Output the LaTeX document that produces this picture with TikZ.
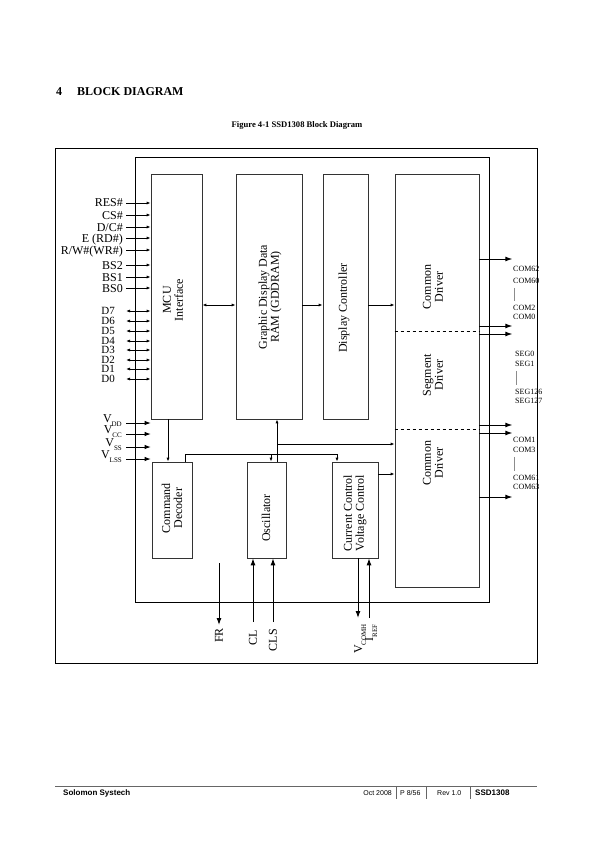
\documentclass[tikz,border=0pt]{standalone}
\usepackage{fontspec}
\setmainfont{Liberation Serif}
\newfontfamily\footfont{Liberation Sans}
\usetikzlibrary{arrows.meta,positioning,calc}

\begin{document}
\begin{tikzpicture}[
  x=1pt, y=-1pt,
  >={Latex[length=4pt,width=3pt]},
  every node/.style={font=\fontsize{12}{12}\selectfont, inner sep=0pt},
  blk/.style={draw=black!80, line width=0.7pt},
  lbl/.style={rotate=90, align=center},
  pin/.style={anchor=east, text height=8pt, text depth=0pt},
  wire/.style={line width=0.8pt},
  big/.style={-{Latex[length=7pt,width=5pt]}, line width=1pt},
  outname/.style={font=\fontsize{8}{8}\selectfont, anchor=west},
  tick/.style={draw=black!45, line width=0.4pt, shorten <=4pt, shorten >=4pt},
  foot/.style={font=\footfont\fontsize{7}{7}\selectfont}
]
\useasboundingbox (0,0) rectangle (595,842);

% heading
\node[anchor=base west, font=\bfseries\fontsize{12}{12}\selectfont] (secnum) at (56,96) {4};
\node[anchor=base west, font=\bfseries\fontsize{12}{12}\selectfont] (sectitle) at (77,96) {BLOCK DIAGRAM};
\node[font=\bfseries\fontsize{8.6}{8.6}\selectfont] (caption) at (297,125) {Figure 4-1 SSD1308 Block Diagram};

% frame and chip outline
\draw[line width=0.9pt] (55,148) rectangle (537,663);
\draw[line width=0.9pt] (135,157) rectangle (489,602);

% blocks
\node[blk, minimum width=51pt, minimum height=245pt] (mcu) at (176.5,296.5) {};
\node[blk, minimum width=66pt, minimum height=245pt] (ram) at (269,296.5) {};
\node[blk, minimum width=45pt, minimum height=245pt] (dc) at (345.5,296.5) {};
\node[blk, minimum width=84pt, minimum height=413pt] (drv) at (437,380.5) {};
\node[blk, minimum width=40pt, minimum height=96pt] (cmd) at (172,510) {};
\node[blk, minimum width=39pt, minimum height=96pt] (osc) at (266.5,510) {};
\node[blk, minimum width=46pt, minimum height=96pt] (cc) at (355,510) {};
\draw[dashed, line width=0.6pt] (drv.west |- 0,331) -- (drv.east |- 0,331);
\draw[dashed, line width=0.6pt] (drv.west |- 0,429) -- (drv.east |- 0,429);

\node[lbl] at (173,300) {MCU\\Interface};
\node[lbl] at (270,297) {Graphic Display Data\\RAM (GDDRAM)};
\node[lbl] at (344,308) {Display Controller};
\node[lbl] at (433,287) {Common\\Driver};
\node[lbl] at (433,375) {Segment\\Driver};
\node[lbl] at (433,463) {Common\\Driver};
\node[lbl] at (172,508) {Command\\Decoder};
\node[lbl] at (266,518) {Oscillator};
\node[lbl] at (355,513) {Current Control\\Voltage Control};

% MCU pins
\foreach \sig/\y in {RES\#/203, CS\#/215, {D/C\#}/227, {E (RD\#)}/238, {R/W\#(WR\#)}/250, BS2/265, BS1/277, BS0/288} {
  \node[pin] (p\y) at (123,\y) {\sig};
  \draw[wire, ->] ([xshift=3pt]p\y.east) -- (p\y -| mcu.west);
}
\foreach \sig/\y in {D7/311, D6/321, D5/331, D4/341, D3/350, D2/360, D1/369, D0/379} {
  \node[pin, font=\fontsize{11}{11}\selectfont, text height=7.5pt] (d\y) at (115,\y) {\sig};
  \draw[wire, <->] ([xshift=11pt]d\y.east) -- (d\y -| mcu.west);
}
\foreach \sub/\y in {DD/423, CC/434, SS/447, LSS/459} {
  \node[pin, anchor=base east] (v\y) at (122,\y-1) {V\raisebox{-4pt}{\fontsize{7}{7}\selectfont \sub}};
  \coordinate (vs\y) at (126,\y);
  \draw[wire, -{Latex[length=6pt,width=4.5pt]}] (vs\y) -- (vs\y -| mcu.west);
}

% internal buses
\coordinate (bus) at (0,305);
\draw[wire, <->] (mcu.east |- bus) -- (ram.west |- bus);
\draw[wire, ->] (ram.east |- bus) -- (dc.west |- bus);
\draw[wire, ->] (dc.east |- bus) -- (drv.west |- bus);

\coordinate (mcx) at (168,440);
\draw[wire, ->] (mcu.south -| mcx) -- (cmd.north -| mcx);
\coordinate (tap) at (277,444);
\draw[wire, ->] (osc.north -| tap) -- (ram.south -| tap);
\draw[wire, ->] (tap) -- (tap -| drv.west);
\coordinate (ctl) at (185,454);
\coordinate (ctlosc) at (271,454);
\coordinate (ctlcc) at (337,454);
\draw[wire] (cmd.north -| ctl) -- (ctl) -- (ctlcc);
\draw[wire, ->] (ctlosc) -- (ctlosc |- osc.north);
\draw[wire, ->] (ctlcc) -- (ctlcc |- cc.north);
\coordinate (ccout) at (378,474);
\draw[wire, ->] (cc.east |- ccout) -- (ccout -| drv.west);

% driver outputs
\foreach \y in {259,326,334,425,433,497}
  \draw[big] (drv.east |- 0,\y) -- ++(33,0);

\node[outname] (com62) at (513,269) {COM62};
\node[outname] (com60) at (513,281) {COM60};
\node[outname] (com2) at (513,308) {COM2};
\node[outname] (com0) at (513,317) {COM0};
\node[outname] (seg0) at (515,354) {SEG0};
\node[outname] (seg1) at (515,364) {SEG1};
\node[outname] (seg126) at (515,392) {SEG126};
\node[outname] (seg127) at (515,401) {SEG127};
\node[outname] (com1) at (513,440) {COM1};
\node[outname] (com3) at (513,450) {COM3};
\node[outname] (com61) at (513,478) {COM61};
\node[outname] (com63) at (513,487) {COM63};
\draw[tick] ([xshift=1pt]com60.south west) -- ([xshift=1pt]com2.north west);
\draw[tick] ([xshift=1pt]seg1.south west) -- ([xshift=1pt]seg126.north west);
\draw[tick] ([xshift=1pt]com3.south west) -- ([xshift=1pt]com61.north west);

% bottom pins
\coordinate (frtop) at (219,563);
\node[lbl, anchor=east] (fr) at (219,628) {FR};
\draw[big, shorten >=3pt] (frtop) -- (fr.east);
\node[lbl, anchor=east] (cl) at (253,630) {CL};
\draw[big, shorten <=8pt] (cl.east) -- (cl.east |- osc.south);
\node[lbl, anchor=east] (cls) at (273,629) {CLS};
\draw[big, shorten <=7pt] (cls.east) -- (cls.east |- osc.south);
\node[lbl, anchor=east, text height=8pt, text depth=0pt] (vcomh) at (358,624) {V\raisebox{-4pt}{\fontsize{7}{7}\selectfont COMH}};
\draw[big, shorten >=6pt] (vcomh.east |- cc.south) -- (vcomh.east);
\node[lbl, anchor=east, text height=8pt, text depth=0pt] (iref) at (369,624) {I\raisebox{-4pt}{\fontsize{7}{7}\selectfont REF}};
\draw[big, shorten <=6pt] (iref.east) -- (iref.east |- cc.south);

% footer
\draw[black!60, line width=0.6pt] (55,786) -- (537,786);
\node[foot, anchor=base west, font=\footfont\bfseries\fontsize{8}{8}\selectfont] (company) at (63,795) {Solomon Systech};
\node[foot, anchor=base east] (date) at (392,795) {Oct 2008};
\node[foot, anchor=base west] (page) at (400,795) {P 8/56};
\node[foot, anchor=base west] (rev) at (437,795) {Rev 1.0};
\node[foot, anchor=base west, font=\footfont\bfseries\fontsize{8}{8}\selectfont] (part) at (475,795) {SSD1308};
\draw[black!60, line width=0.5pt] (396,786) -- (396,799);
\draw[black!60, line width=0.5pt] (426,786) -- (426,799);
\draw[black!60, line width=0.5pt] (470,786) -- (470,799);
\end{tikzpicture}
\end{document}
